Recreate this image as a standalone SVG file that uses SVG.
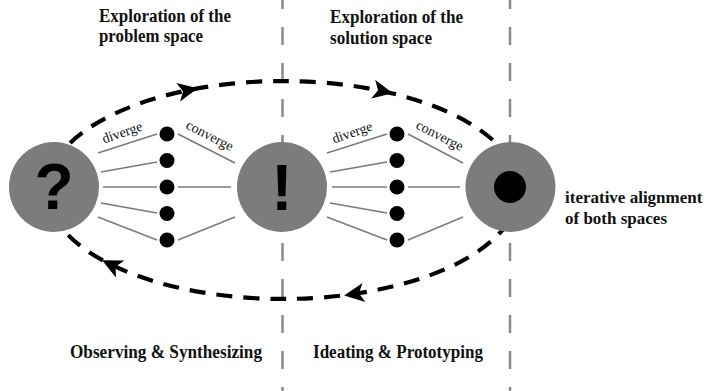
<svg xmlns="http://www.w3.org/2000/svg" width="707" height="391" viewBox="0 0 707 391">
<style>
.bg{fill:#fff}
.vdash{stroke:#8a8a8a;stroke-width:2.5;stroke-dasharray:18 18;stroke-dashoffset:9;fill:none}
.loop{stroke:#000;stroke-width:4.2;stroke-dasharray:16 11;fill:none}
.ray{stroke:#7a7a7a;stroke-width:1.5;fill:none}
.big{fill:#7c7c7c}
.dot{fill:#000}
.head{fill:#000}
.title{font-family:"Liberation Serif","Times New Roman",serif;font-weight:bold;font-size:18px;fill:#111}
.side{font-size:17px}
.small{font-family:"Liberation Serif","Times New Roman",serif;font-size:14px;fill:#111}
.sym{font-family:"Liberation Sans",Arial,sans-serif;font-weight:bold;font-size:64px;fill:#000;text-anchor:middle}
</style>
<defs>
<polygon id="ah" points="11,0 -9,-9.5 -4,0 -9,9.5"/>
</defs>
<rect class="bg" x="0" y="0" width="707" height="391"/>
<g id="dividers">
<line class="vdash" x1="282.5" y1="0" x2="282.5" y2="391"/>
<line class="vdash" x1="510" y1="0" x2="510" y2="391"/>
</g>
<g id="connectors">
<path class="loop" d="M47,190 A236,109 0 0 1 519,190 A236,109 0 0 1 47,190 Z"/>
<use href="#ah" class="head" transform="translate(187,90.4) rotate(-11.6)"/>
<use href="#ah" class="head" transform="translate(382,91) rotate(12)"/>
<use href="#ah" class="head" transform="translate(355,293.8) rotate(171.6)"/>
<use href="#ah" class="head" transform="translate(112,265.1) rotate(-154)"/>
<g id="rays-left">
<line class="ray" x1="98" y1="153" x2="157" y2="134"/>
<line class="ray" x1="101" y1="172" x2="157" y2="162"/>
<line class="ray" x1="103" y1="187" x2="157" y2="187"/>
<line class="ray" x1="101" y1="203" x2="157" y2="213"/>
<line class="ray" x1="98" y1="217" x2="157" y2="240"/>
<line class="ray" x1="178" y1="134" x2="235" y2="163"/>
<line class="ray" x1="178" y1="187" x2="231" y2="187"/>
<line class="ray" x1="178" y1="240" x2="235" y2="217"/>
</g>
<g id="rays-right">
<line class="ray" x1="327" y1="153" x2="387" y2="134"/>
<line class="ray" x1="330" y1="172" x2="387" y2="162"/>
<line class="ray" x1="332" y1="187" x2="387" y2="187"/>
<line class="ray" x1="330" y1="203" x2="387" y2="213"/>
<line class="ray" x1="327" y1="217" x2="387" y2="240"/>
<line class="ray" x1="408" y1="134" x2="463" y2="163"/>
<line class="ray" x1="408" y1="187" x2="460" y2="187"/>
<line class="ray" x1="408" y1="240" x2="463" y2="217"/>
</g>
</g>
<g id="node-problem">
<circle class="big" cx="54" cy="187" r="45"/>
<text class="sym" x="54" y="209">?</text>
</g>
<g id="node-insight">
<circle class="big" cx="282" cy="187" r="45"/>
<text class="sym" x="282" y="210">!</text>
</g>
<g id="node-solution">
<circle class="big" cx="510.5" cy="187" r="45"/>
<circle class="dot" cx="510" cy="187" r="16"/>
</g>
<g id="options-left">
<circle class="dot" cx="167" cy="134" r="7.5"/>
<circle class="dot" cx="167" cy="160.5" r="7.5"/>
<circle class="dot" cx="167" cy="187" r="7.5"/>
<circle class="dot" cx="167" cy="213.5" r="7.5"/>
<circle class="dot" cx="167" cy="240" r="7.5"/>
<text class="small" transform="translate(104,143.5) rotate(-19)">diverge</text>
<text class="small" transform="translate(185,128) rotate(27)">converge</text>
</g>
<g id="options-right">
<circle class="dot" cx="397" cy="134" r="7.5"/>
<circle class="dot" cx="397" cy="160.5" r="7.5"/>
<circle class="dot" cx="397" cy="187" r="7.5"/>
<circle class="dot" cx="397" cy="213.5" r="7.5"/>
<circle class="dot" cx="397" cy="240" r="7.5"/>
<text class="small" transform="translate(334,143.5) rotate(-19)">diverge</text>
<text class="small" transform="translate(415,128) rotate(27)">converge</text>
</g>
<g id="labels">
<text class="title" x="99" y="22" textLength="132" lengthAdjust="spacingAndGlyphs">Exploration of the</text>
<text class="title" x="99" y="42" textLength="104" lengthAdjust="spacingAndGlyphs">problem space</text>
<text class="title" x="330" y="23" textLength="133" lengthAdjust="spacingAndGlyphs">Exploration of the</text>
<text class="title" x="330" y="44" textLength="102" lengthAdjust="spacingAndGlyphs">solution space</text>
<text class="title side" x="565" y="203">iterative alignment</text>
<text class="title side" x="565" y="224">of both spaces</text>
<text class="title" x="70" y="358" textLength="192" lengthAdjust="spacingAndGlyphs">Observing &amp; Synthesizing</text>
<text class="title" x="313" y="358" textLength="170" lengthAdjust="spacingAndGlyphs">Ideating &amp; Prototyping</text>
</g>
</svg>
